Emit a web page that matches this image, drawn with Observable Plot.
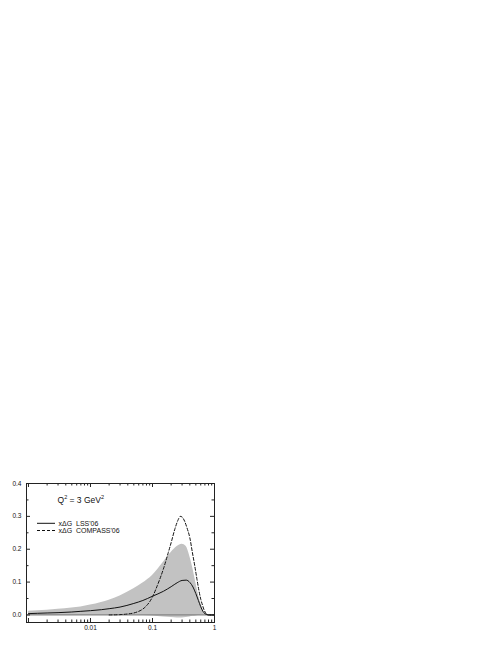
<!DOCTYPE html>
<html><head><meta charset="utf-8">
<script src="https://cdn.jsdelivr.net/npm/d3@7"></script>
<script src="https://cdn.jsdelivr.net/npm/@observablehq/plot@0.6"></script>
<style>
html,body{margin:0;padding:0;background:#fff;}
#wrap{position:relative;width:502px;height:649px;font-family:"Liberation Sans",Arial,sans-serif;}
#overlay{position:absolute;left:0;top:0;pointer-events:none;}
</style></head><body><div id="wrap"></div>
<script>
// LSS'06 x*DeltaG with error band
const xGrid  = [0.001,0.002,0.003,0.005,0.007,0.01,0.015,0.02,0.03,0.05,0.07,0.1,0.15,0.2,0.25,0.3,0.35,0.4,0.45,0.5,0.55,0.6,0.65,0.7,0.75,0.8,1.0];
const lss    = [0.004,0.006,0.007,0.009,0.011,0.013,0.016,0.019,0.024,0.035,0.044,0.057,0.072,0.086,0.098,0.105,0.106,0.099,0.085,0.065,0.044,0.025,0.011,0.004,0.001,0.0,0.0];
const bandLo = [-0.002,-0.002,-0.002,-0.002,-0.002,-0.002,-0.002,-0.002,-0.001,-0.001,-0.002,-0.003,-0.006,-0.008,-0.009,-0.009,-0.008,-0.006,-0.004,-0.003,-0.002,-0.001,0.0,0.0,0.0,0.0,0.0];
const bandHi = [0.011,0.014,0.017,0.021,0.024,0.030,0.038,0.045,0.058,0.080,0.097,0.120,0.160,0.190,0.208,0.215,0.208,0.178,0.140,0.098,0.062,0.036,0.018,0.006,0.001,0.0,0.0];
// COMPASS'06 x*DeltaG
const compassX = [0.02,0.03,0.04,0.05,0.06,0.07,0.08,0.09,0.1,0.12,0.15,0.18,0.2,0.23,0.26,0.28,0.3,0.33,0.36,0.4,0.44,0.48,0.52,0.56,0.6,0.64,0.68,0.72,0.76,0.8,1.0];
const compass  = [0.0,0.001,0.003,0.006,0.011,0.018,0.028,0.040,0.055,0.090,0.140,0.190,0.220,0.262,0.290,0.300,0.298,0.285,0.265,0.235,0.190,0.150,0.110,0.075,0.048,0.030,0.015,0.006,0.001,0.0,0.0];
// axes
const yTicks = [0.0,0.1,0.2,0.3,0.4];
const yMinor = [0.05,0.15,0.25,0.35];
const xTicks = [0.01,0.1,1];
const xTickLabels = ["0.01","0.1","1"];
const xMajorAll = [0.001,0.01,0.1,1];
const xMinor = [];
for (const e of [0.001,0.01,0.1]) for (let k = 2; k <= 9; k++) xMinor.push(+(k*e).toPrecision(3));

const W = 502, H = 649;
const mL = 26, mR = 288, mT = 483, mB = 27;
const fw = W - mL - mR, fh = H - mT - mB;

const band = xGrid.map((x,i)=>({x, lo: bandLo[i], hi: bandHi[i], v: lss[i]}));
const comp = compassX.map((x,i)=>({x, v: compass[i]}));

const plot = Plot.plot({
  width: W, height: H,
  marginLeft: mL, marginRight: mR, marginTop: mT, marginBottom: mB,
  style: {fontFamily: '"Liberation Sans", Arial, sans-serif', background: "transparent", color: "#111"},
  x: {type: "log", domain: [0.00093, 1]},
  y: {domain: [-0.023, 0.4]},
  marks: [
    Plot.areaY(band, {x: "x", y1: "lo", y2: "hi", fill: "#c2c2c2", curve: "monotone-x"}),
    Plot.ruleY([0], {stroke: "#858585", strokeWidth: 1.3}),
    Plot.lineY(comp, {x: "x", y: "v", stroke: "#111", strokeWidth: 1, strokeDasharray: "3,2", curve: "monotone-x"}),
    Plot.lineY(band, {x: "x", y: "v", stroke: "#111", strokeWidth: 1, curve: "monotone-x"}),
    // inward ticks, bottom & top
    Plot.tickX(xMajorAll, {x: d=>d, insetTop: fh-4, stroke: "#222"}),
    Plot.tickX(xMinor, {x: d=>d, insetTop: fh-2.5, stroke: "#222"}),
    Plot.tickX(xMajorAll, {x: d=>d, insetBottom: fh-4, stroke: "#222"}),
    Plot.tickX(xMinor, {x: d=>d, insetBottom: fh-2.5, stroke: "#222"}),
    // inward ticks, left & right
    Plot.tickY(yTicks, {y: d=>d, insetRight: fw-4, stroke: "#222"}),
    Plot.tickY(yMinor, {y: d=>d, insetRight: fw-2.5, stroke: "#222"}),
    Plot.tickY(yTicks, {y: d=>d, insetLeft: fw-4, stroke: "#222"}),
    Plot.tickY(yMinor, {y: d=>d, insetLeft: fw-2.5, stroke: "#222"}),
    Plot.frame({stroke: "#222", strokeWidth: 1}),
    Plot.axisX(xTicks, {tickSize: 0, tickPadding: 3, fontSize: 6.5, fill: "#111",
      tickFormat: d => xTickLabels[xTicks.indexOf(d)], label: null}),
    Plot.axisY(yTicks, {tickSize: 0, tickPadding: 5, fontSize: 6.5, fill: "#111",
      tickFormat: d3.format(".1f"), label: null})
  ]
});
const wrap = document.getElementById("wrap");
wrap.appendChild(plot);

// annotation + legend overlay
const ns = "http://www.w3.org/2000/svg";
const ov = document.createElementNS(ns, "svg");
ov.setAttribute("id","overlay");
ov.setAttribute("width", W); ov.setAttribute("height", H);
ov.innerHTML = `
<g font-family="Liberation Sans, Arial, sans-serif" fill="#111">
  <text x="57.5" y="502.5" font-size="8.5">Q<tspan font-size="5.5" dy="-3.5">2</tspan><tspan dy="3.5"> = 3 GeV</tspan><tspan font-size="5.5" dy="-3.5">2</tspan></text>
  <line x1="37" x2="55" y1="523.3" y2="523.3" stroke="#111" stroke-width="1"/>
  <text x="58.5" y="525.8" font-size="7">x&#916;G&#160;&#160;LSS'06</text>
  <line x1="37" x2="55" y1="530.5" y2="530.5" stroke="#111" stroke-width="1" stroke-dasharray="3,2"/>
  <text x="58.5" y="533" font-size="7">x&#916;G&#160;&#160;COMPASS'06</text>
</g>`;
wrap.appendChild(ov);
</script>
</body></html>
